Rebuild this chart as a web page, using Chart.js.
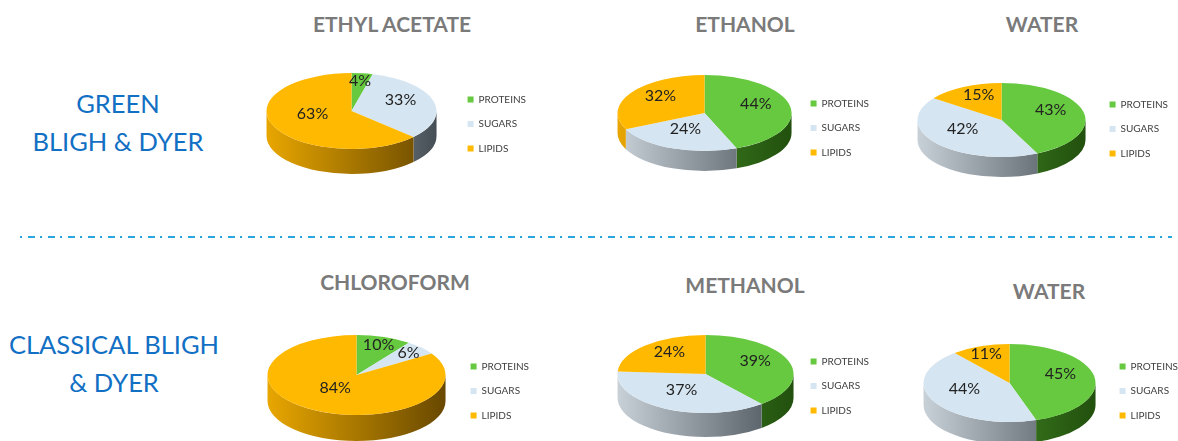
<!DOCTYPE html>
<html>
<head>
<meta charset="utf-8">
<script src="https://cdn.jsdelivr.net/npm/chart.js@4.4.1/dist/chart.umd.min.js"></script>
<style>
  html, body { margin: 0; padding: 0; width: 1178px; height: 441px; overflow: hidden; background: #fff; }
  .title { position: absolute; transform: translate(-50%, -50%); font: bold 21px Lato, sans-serif; color: #7a7a7a; white-space: nowrap; }
  .row { position: absolute; transform: translate(-50%, -50%); font: 25.5px Lato, sans-serif; color: #1170c4; white-space: nowrap; text-align: center; line-height: 38px; }
  canvas { position: absolute; }
  svg { position: absolute; left: 0; top: 0; }
</style>
</head>
<body>
<div class="row" style="left:118px;top:122px">GREEN<br>BLIGH &amp; DYER</div>
<div class="row" style="left:114px;top:363px">CLASSICAL BLIGH<br>&amp; DYER</div>

<div class="title" style="left:392px;top:23px">ETHYL ACETATE</div>
<div class="title" style="left:745px;top:23px">ETHANOL</div>
<div class="title" style="left:1042px;top:23px">WATER</div>
<div class="title" style="left:395px;top:281px">CHLOROFORM</div>
<div class="title" style="left:745px;top:284px">METHANOL</div>
<div class="title" style="left:1049px;top:290px">WATER</div>

<svg width="1178" height="441">
  <line x1="20" y1="237" x2="1172" y2="237" stroke="#29a6df" stroke-width="2" stroke-dasharray="2 6 7 5"/>
</svg>

<script>
const categories = ['PROTEINS', 'SUGARS', 'LIPIDS'];

// green bligh & dyer
const ethylAcetate = [4, 33, 63];
const ethanolGreen = [44, 24, 32];
const waterGreen = [43, 42, 15];

// classical bligh & dyer
const chloroform = [10, 6, 84];
const methanol = [39, 37, 24];
const waterClassical = [45, 44, 11];

const topColors = ['#66c93f', '#d5e5f1', '#ffb900'];
const sideColors = [['#4f9e2c', '#22500e'], ['#c9d1d8', '#454d55'], ['#e8a600', '#684800']];

// where each pie sits on the page (cx, cy = face centre, legendX/Y = marker x, middle item y)
const pies = [
  { values: ethylAcetate,   cx: 351,  cy: 111, rx: 85, ry: 38, depth: 25, legendX: 467,  legendY: 124 },
  { values: ethanolGreen,   cx: 704,  cy: 113, rx: 87, ry: 38, depth: 20, legendX: 810,  legendY: 128 },
  { values: waterGreen,     cx: 1001, cy: 120, rx: 84, ry: 37, depth: 20, legendX: 1109, legendY: 129 },
  { values: chloroform,     cx: 356,  cy: 375, rx: 89, ry: 40, depth: 26, legendX: 470,  legendY: 391 },
  { values: methanol,       cx: 705,  cy: 374, rx: 88, ry: 39, depth: 24, legendX: 810,  legendY: 386 },
  { values: waterClassical, cx: 1009, cy: 383, rx: 86, ry: 39, depth: 22, legendX: 1119, legendY: 391 }
];

const legendFont = { family: 'Lato', size: 10 };
const legendBox = 6;
const legendPad = 14.5;

// tilt the chart.js pie into a flat ellipse and put a rim under it
const pie3d = {
  id: 'pie3d',
  beforeDatasetsDraw(chart, args, opts) {
    const ctx = chart.ctx;
    const arcs = chart.getDatasetMeta(0).data;
    const cx = arcs[0].x, cy = arcs[0].y, R = arcs[0].outerRadius;
    const k = opts.ry / R;
    const top = cy - opts.lift;
    ctx.save();
    arcs.forEach((arc, i) => {
      const a0 = Math.max(arc.startAngle, 0);
      const a1 = Math.min(arc.endAngle, Math.PI);
      if (a1 <= a0) return;
      const g = ctx.createLinearGradient(cx - R, 0, cx + R, 0);
      g.addColorStop(0, sideColors[i][0]);
      g.addColorStop(1, sideColors[i][1]);
      ctx.beginPath();
      ctx.ellipse(cx, top, R, R * k, 0, a0, a1);
      ctx.ellipse(cx, top + opts.depth, R, R * k, 0, a1, a0, true);
      ctx.closePath();
      ctx.fillStyle = g;
      ctx.fill();
    });
    ctx.restore();
    ctx.save();
    ctx.translate(cx, top);
    ctx.scale(1, k);
    ctx.translate(-cx, -cy);
  },
  afterDatasetsDraw(chart, args, opts) {
    const ctx = chart.ctx;
    ctx.restore();
    const arcs = chart.getDatasetMeta(0).data;
    const values = chart.data.datasets[0].data;
    const cx = arcs[0].x, cy = arcs[0].y, R = arcs[0].outerRadius;
    const k = opts.ry / R;
    const top = cy - opts.lift;
    ctx.save();
    ctx.font = '16px Lato';
    ctx.fillStyle = '#222';
    ctx.textAlign = 'center';
    ctx.textBaseline = 'middle';
    arcs.forEach((arc, i) => {
      const mid = (arc.startAngle + arc.endAngle) / 2;
      const v = values[i];
      const small = v < 12;
      const r = R * (small ? 0.8 : v > 50 ? 0.5 : 0.6);
      // perspective pulls the inner labels up a little
      const shift = small ? 0 : 5;
      ctx.fillText(v + '%', cx + r * Math.cos(mid), top + k * r * Math.sin(mid) - shift);
    });
    ctx.restore();
  }
};

const measure = document.createElement('canvas').getContext('2d');
measure.font = legendFont.size + 'px ' + legendFont.family;
const textW = Math.max(...categories.map(c => measure.measureText(c).width));
const itemW = legendBox + legendFont.size / 2 + textW;

pies.forEach(p => {
  const canvas = document.createElement('canvas');
  const left = 2 * p.cx - p.legendX + legendPad;
  const width = Math.ceil(p.legendX + itemW + 10 - left);
  const height = 2 * p.rx;
  canvas.width = width;
  canvas.height = height;
  canvas.style.left = left + 'px';
  canvas.style.top = (p.legendY - p.rx) + 'px';
  document.body.appendChild(canvas);

  new Chart(canvas, {
    type: 'pie',
    data: {
      labels: categories,
      datasets: [{
        data: p.values,
        backgroundColor: topColors,
        borderWidth: 0,
        hoverOffset: 0
      }]
    },
    options: {
      responsive: false,
      animation: false,
      layout: { padding: 0 },
      plugins: {
        legend: {
          position: 'right',
          labels: {
            boxWidth: legendBox,
            boxHeight: legendBox,
            padding: legendPad,
            font: legendFont,
            color: '#404040'
          }
        },
        tooltip: { enabled: false },
        pie3d: { ry: p.ry, depth: p.depth, lift: p.legendY - p.cy }
      }
    },
    plugins: [pie3d]
  });
});
</script>
</body>
</html>
